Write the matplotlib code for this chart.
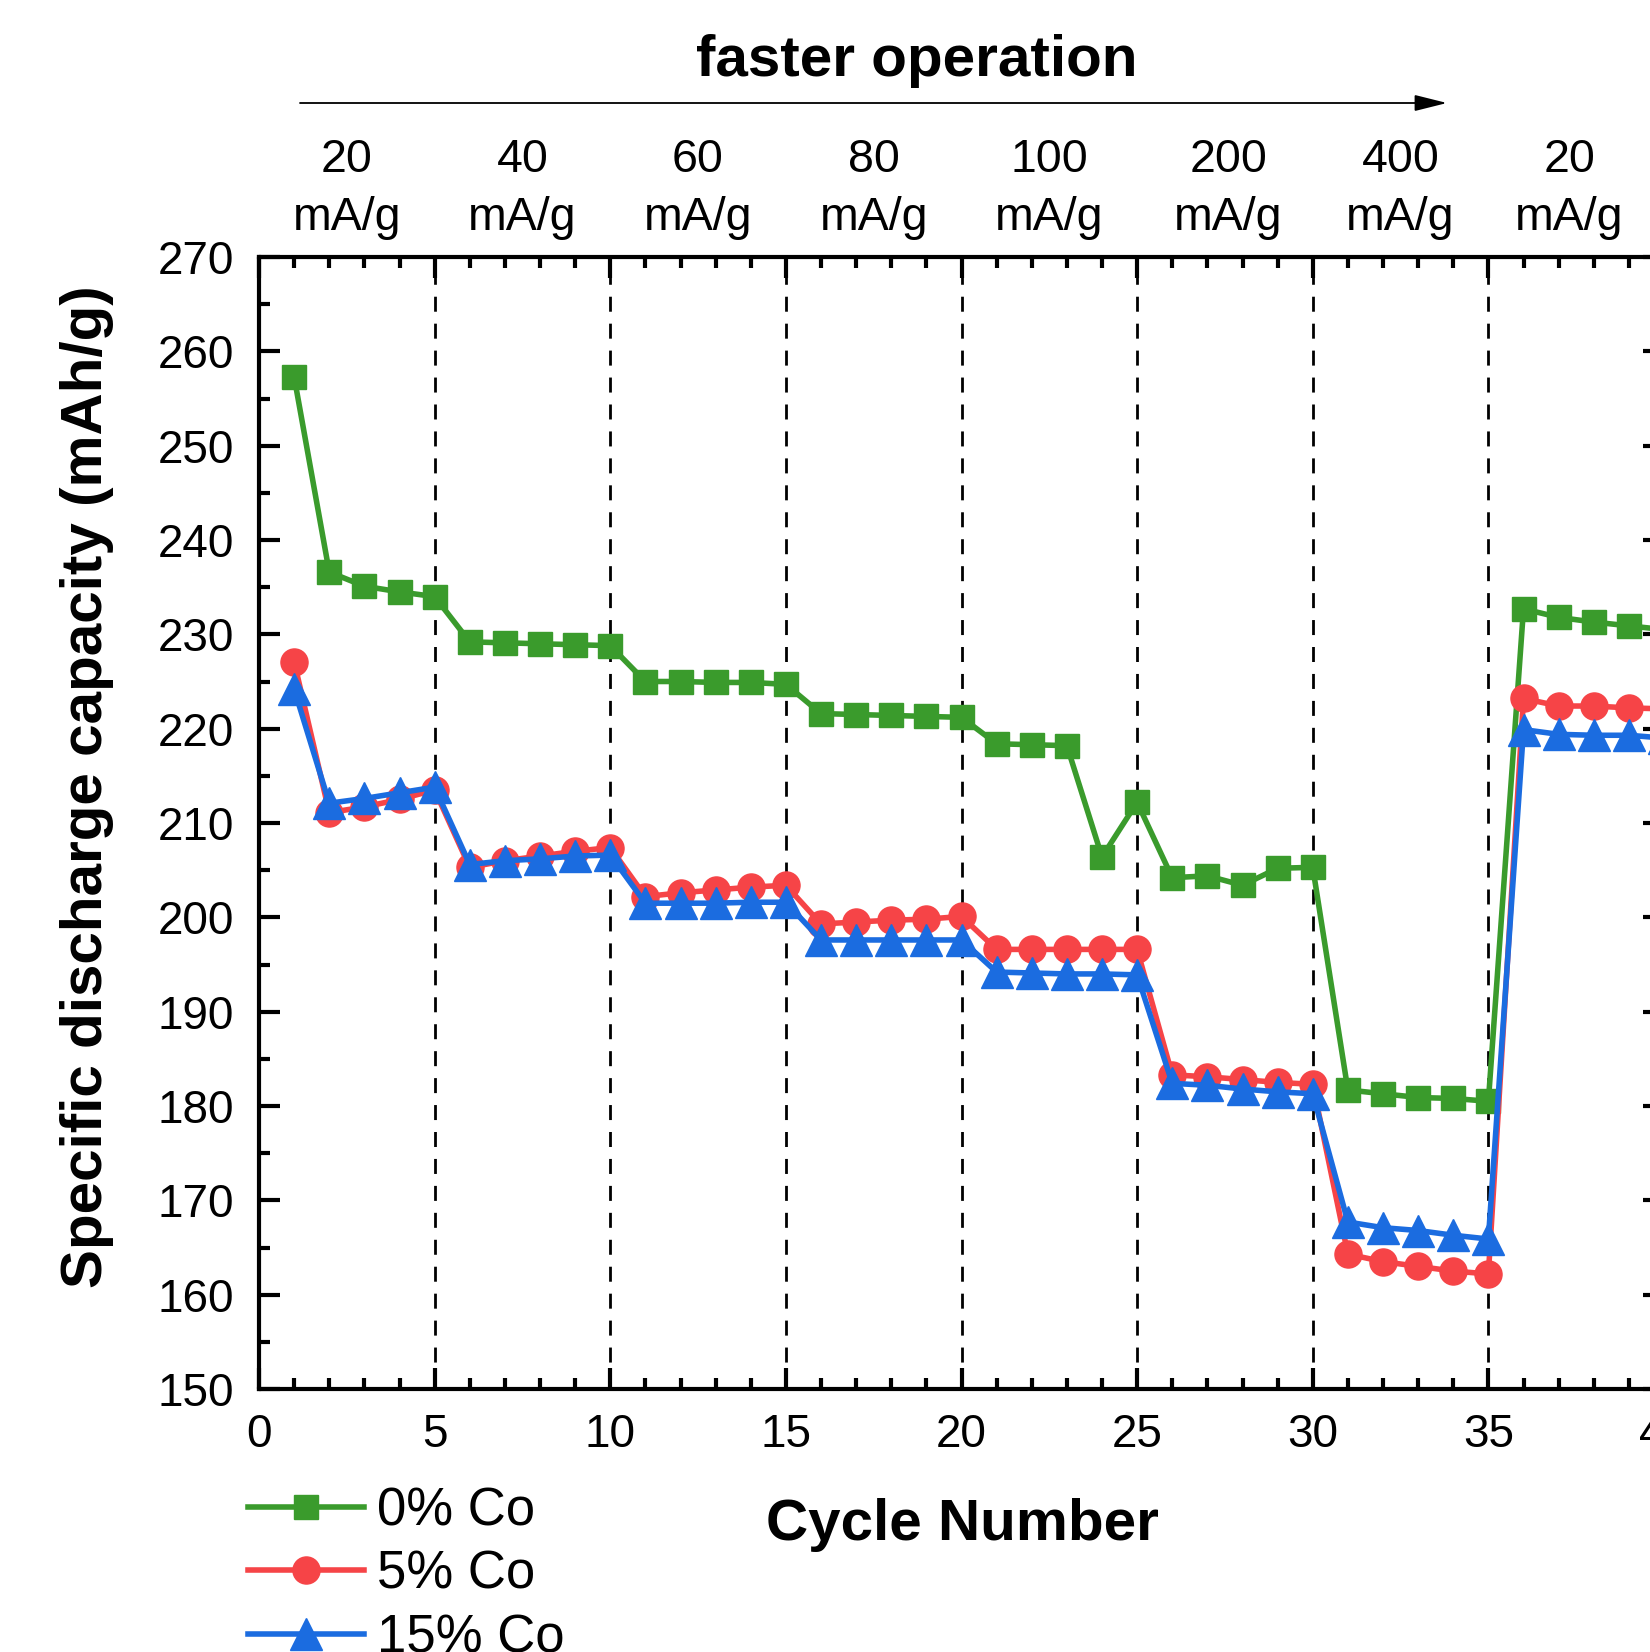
import matplotlib
matplotlib.use("Agg")
import matplotlib.pyplot as plt
import matplotlib.transforms as mtransforms
import matplotlib.patches as mpatches
import numpy as np

plt.rcParams['font.family'] = ['Liberation Sans', 'DejaVu Sans']

cycles = list(range(1, 41))
co0 = [257.3, 236.6, 235.1, 234.5, 234.0,
       229.2, 229.1, 229.0, 228.9, 228.8,
       225.0, 225.0, 224.9, 224.9, 224.7,
       221.6, 221.5, 221.4, 221.3, 221.2,
       218.4, 218.3, 218.2, 206.4, 212.2,
       204.2, 204.4, 203.4, 205.2, 205.3,
       181.7, 181.3, 180.9, 180.8, 180.5,
       232.7, 231.8, 231.3, 230.9, 230.5]
co5 = [227.1, 211.1, 211.7, 212.5, 213.5,
       205.3, 206.0, 206.5, 207.0, 207.4,
       202.2, 202.6, 202.9, 203.2, 203.4,
       199.3, 199.5, 199.7, 199.8, 200.1,
       196.6, 196.6, 196.6, 196.6, 196.6,
       183.3, 183.1, 182.8, 182.5, 182.3,
       164.3, 163.5, 163.0, 162.5, 162.2,
       223.2, 222.4, 222.4, 222.2, 222.1]
co15 = [224.2, 212.1, 212.6, 213.2, 213.8,
        205.6, 206.0, 206.2, 206.5, 206.6,
        201.5, 201.5, 201.5, 201.6, 201.6,
        197.6, 197.6, 197.6, 197.6, 197.6,
        194.2, 194.1, 194.0, 194.0, 193.9,
        182.4, 182.2, 181.8, 181.5, 181.3,
        167.7, 167.1, 166.8, 166.3, 165.9,
        219.9, 219.4, 219.3, 219.3, 219.0]
series_labels = ['0% Co', '5% Co', '15% Co']
rate_labels = ['20\nmA/g', '40\nmA/g', '60\nmA/g', '80\nmA/g', '100\nmA/g',
               '200\nmA/g', '400\nmA/g', '20\nmA/g']
rate_centers = [2.5, 7.5, 12.5, 17.5, 22.5, 27.6, 32.5, 37.3]
boundaries = [5, 10, 15, 20, 25, 30, 35]

fig = plt.figure(figsize=(16.5, 16.52), dpi=100)
ax = fig.add_axes([259/1650, 1 - 1389/1652, (1664 - 259)/1650, (1389 - 257)/1652])

colors = ['#3A9B2C', '#F64447', '#1B6CE0']
markers = ['s', 'o', '^']
msizes = [17, 19.5, 23.5]
handles = []
for y, c, m, ms, lab in zip([co0, co5, co15], colors, markers, msizes, series_labels):
    h, = ax.plot(cycles, y, color=c, marker=m, markersize=ms, lw=4.0,
                 label=lab, zorder=3)
    handles.append(h)

for b in boundaries:
    ax.axvline(b, color='black', ls=(0, (5.4, 4.3)), lw=2.0, zorder=1)

ax.set_xlim(0, 40)
ax.set_ylim(150, 270)
ax.set_xticks(np.arange(0, 41, 5))
ax.set_xticks(np.arange(0, 41, 1), minor=True)
ax.set_yticks(np.arange(150, 271, 10))
ax.set_yticks(np.arange(150, 271, 5), minor=True)
ax.tick_params(which='both', direction='in', top=True, right=True, width=3)
ax.tick_params(which='major', length=15, labelsize=33)
ax.tick_params(which='minor', length=8)
ax.tick_params(axis='x', pad=17)
ax.tick_params(axis='y', pad=18)
for s in ax.spines.values():
    s.set_linewidth(3)

fig.text(962/1650, 1 - 1525/1652, 'Cycle Number', fontsize=42, fontweight='bold',
         ha='center', va='center')
fig.text(87/1650, 1 - 787/1652, 'Specific discharge capacity (mAh/g)', rotation=90,
         fontsize=42, fontweight='bold', ha='center', va='center')

trans = mtransforms.blended_transform_factory(ax.transData, fig.transFigure)
for xc, lab in zip(rate_centers, rate_labels):
    ax.text(xc, 1 - 189/1652, lab, transform=trans,
            ha='center', va='center', fontsize=33.5, linespacing=1.42)

fig.text(917/1650, 1 - 61/1652, 'faster operation', fontsize=42, fontweight='bold',
         ha='center', va='center')
fig.add_artist(mpatches.FancyArrowPatch(
    (300/1650, 1 - 103/1652), (1447/1650, 1 - 103/1652), transform=fig.transFigure,
    arrowstyle='-|>,head_length=1.0,head_width=0.25', mutation_scale=20,
    color='black', lw=1.3, shrinkA=0, shrinkB=0))

fig.legend(handles=handles, loc='upper left', bbox_to_anchor=(248/1650, 1 - 1486/1652),
           frameon=False, fontsize=38, handlelength=2.2, handletextpad=0.25,
           labelspacing=0.26, borderaxespad=0, borderpad=0)

fig.savefig('out.png', dpi=100)
